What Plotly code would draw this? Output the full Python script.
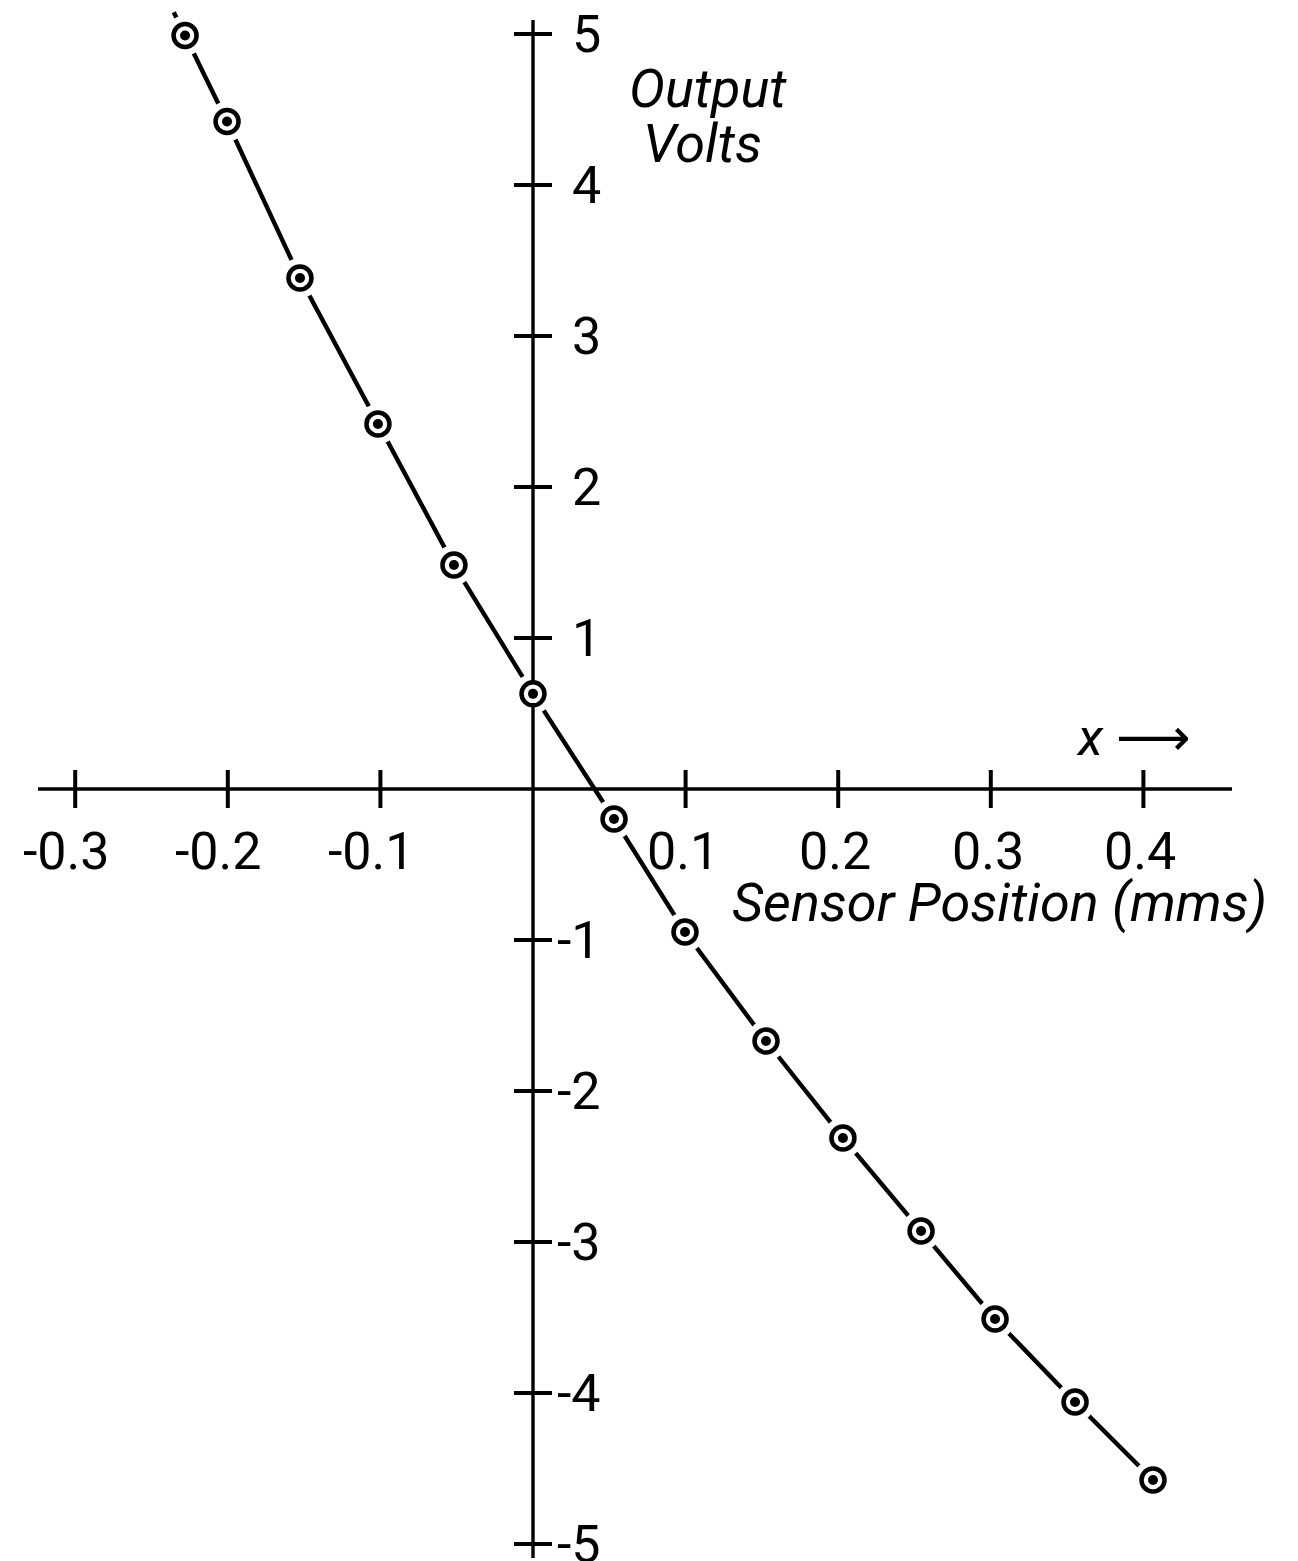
import plotly.graph_objects as go

# ---- data ----
sensor_position_mm = [-0.228, -0.2005, -0.1527, -0.1016, -0.0518, 0.0, 0.0531,
                      0.0996, 0.1527, 0.2031, 0.2543, 0.3028, 0.3552, 0.4063]
output_volts = [4.99, 4.42, 3.384, 2.417, 1.483, 0.63, -0.199,
                -0.947, -1.669, -2.311, -2.927, -3.51, -4.06, -4.576]

x_ticks = [-0.3, -0.2, -0.1, 0.1, 0.2, 0.3, 0.4]
x_tick_labels = ["-0.3", "-0.2", "-0.1", "0.1", "0.2", "0.3", "0.4"]
y_ticks = [5, 4, 3, 2, 1, -1, -2, -3, -4, -5]
y_tick_labels = ["5", "4", "3", "2", "1", "-1", "-2", "-3", "-4", "-5"]

# ---- canvas / scale ----
W, H = 1298, 1561
X0_PX, Y0_PX = 533, 789          # pixel position of the origin
PX_PER_X, PX_PER_Y = 1526.0, 151.0

x_range = [-X0_PX / PX_PER_X, (W - X0_PX) / PX_PER_X]
y_range = [-(H - Y0_PX) / PX_PER_Y, Y0_PX / PX_PER_Y]


def dx(px):
    return px / PX_PER_X


def dy(px):
    return px / PX_PER_Y


def px_x(px):
    return (px - X0_PX) / PX_PER_X


def px_y(py):
    return (Y0_PX - py) / PX_PER_Y


INK = "black"
FONT = "Roboto, 'DejaVu Sans', sans-serif"

fig = go.Figure()

# curve: extend slightly beyond the first point along the first segment
ext = 0.27
x_ext = sensor_position_mm[0] + ext * (sensor_position_mm[0] - sensor_position_mm[1])
y_ext = output_volts[0] + ext * (output_volts[0] - output_volts[1])
fig.add_trace(go.Scatter(x=[x_ext] + sensor_position_mm, y=[y_ext] + output_volts,
                         mode="lines", line=dict(color=INK, width=4.4),
                         hoverinfo="skip"))

# white halo giving the gap between line and markers
fig.add_trace(go.Scatter(x=sensor_position_mm, y=output_volts, mode="markers",
                         marker=dict(symbol="circle", size=40, color="white",
                                     line=dict(width=0)),
                         hoverinfo="skip"))

# axes lines
ax_x = [px_x(38), px_x(1232), None, 0, 0]
ax_y = [0, 0, None, px_y(20), px_y(1558)]
fig.add_trace(go.Scatter(x=ax_x, y=ax_y, mode="lines",
                         line=dict(color=INK, width=3.4), hoverinfo="skip"))

# crossing tick marks
tx, ty = [], []
half_v = dy(19)
for v in x_ticks:
    tx += [v, v, None]
    ty += [-half_v, half_v, None]
half_h = dx(19)
for v in y_ticks:
    tx += [-half_h, half_h, None]
    ty += [v, v, None]
fig.add_trace(go.Scatter(x=tx, y=ty, mode="lines",
                         line=dict(color=INK, width=4), hoverinfo="skip"))

# ring markers with centre dot
fig.add_trace(go.Scatter(x=sensor_position_mm, y=output_volts, mode="markers",
                         marker=dict(symbol="circle", size=23, color="white",
                                     line=dict(color=INK, width=4.5)),
                         hoverinfo="skip"))
fig.add_trace(go.Scatter(x=sensor_position_mm, y=output_volts, mode="markers",
                         marker=dict(symbol="circle", size=10, color=INK,
                                     line=dict(width=0)),
                         hoverinfo="skip"))

annotations = []
label_font = dict(family=FONT, size=52, color=INK)
for v, t in zip(x_ticks, x_tick_labels):
    annotations.append(dict(x=v, y=0, xref="x", yref="y", text=t, showarrow=False,
                            xanchor="center", yanchor="middle",
                            xshift=-9 if t.startswith("-") else -3, yshift=-62,
                            font=label_font))
for v, t in zip(y_ticks, y_tick_labels):
    annotations.append(dict(x=0, y=v, xref="x", yref="y", text=t, showarrow=False,
                            xanchor="right", yanchor="middle", xshift=70,
                            font=label_font))

ital = dict(family=FONT, size=54, color=INK, style="italic")
annotations.append(dict(x=px_x(999), y=px_y(902), xref="x", yref="y",
                        text="Sensor Position (mms)", showarrow=False,
                        xanchor="center", yanchor="middle", font=ital))
annotations.append(dict(x=px_x(708), y=px_y(88), xref="x", yref="y",
                        text="Output", showarrow=False,
                        xanchor="center", yanchor="middle", font=ital))
annotations.append(dict(x=px_x(702), y=px_y(143), xref="x", yref="y",
                        text="Volts", showarrow=False,
                        xanchor="center", yanchor="middle", font=ital))
annotations.append(dict(x=px_x(1074), y=px_y(737), xref="x", yref="y",
                        text="<i>x</i> \u27f6", showarrow=False,
                        xanchor="left", yanchor="middle",
                        font=dict(family=FONT, size=52, color=INK)))

fig.update_layout(
    width=W, height=H,
    margin=dict(l=0, r=0, t=0, b=0),
    paper_bgcolor="white", plot_bgcolor="white",
    showlegend=False,
    xaxis=dict(range=x_range, visible=False, fixedrange=True),
    yaxis=dict(range=y_range, visible=False, fixedrange=True),
    annotations=annotations,
)

fig.write_html("out.html")
